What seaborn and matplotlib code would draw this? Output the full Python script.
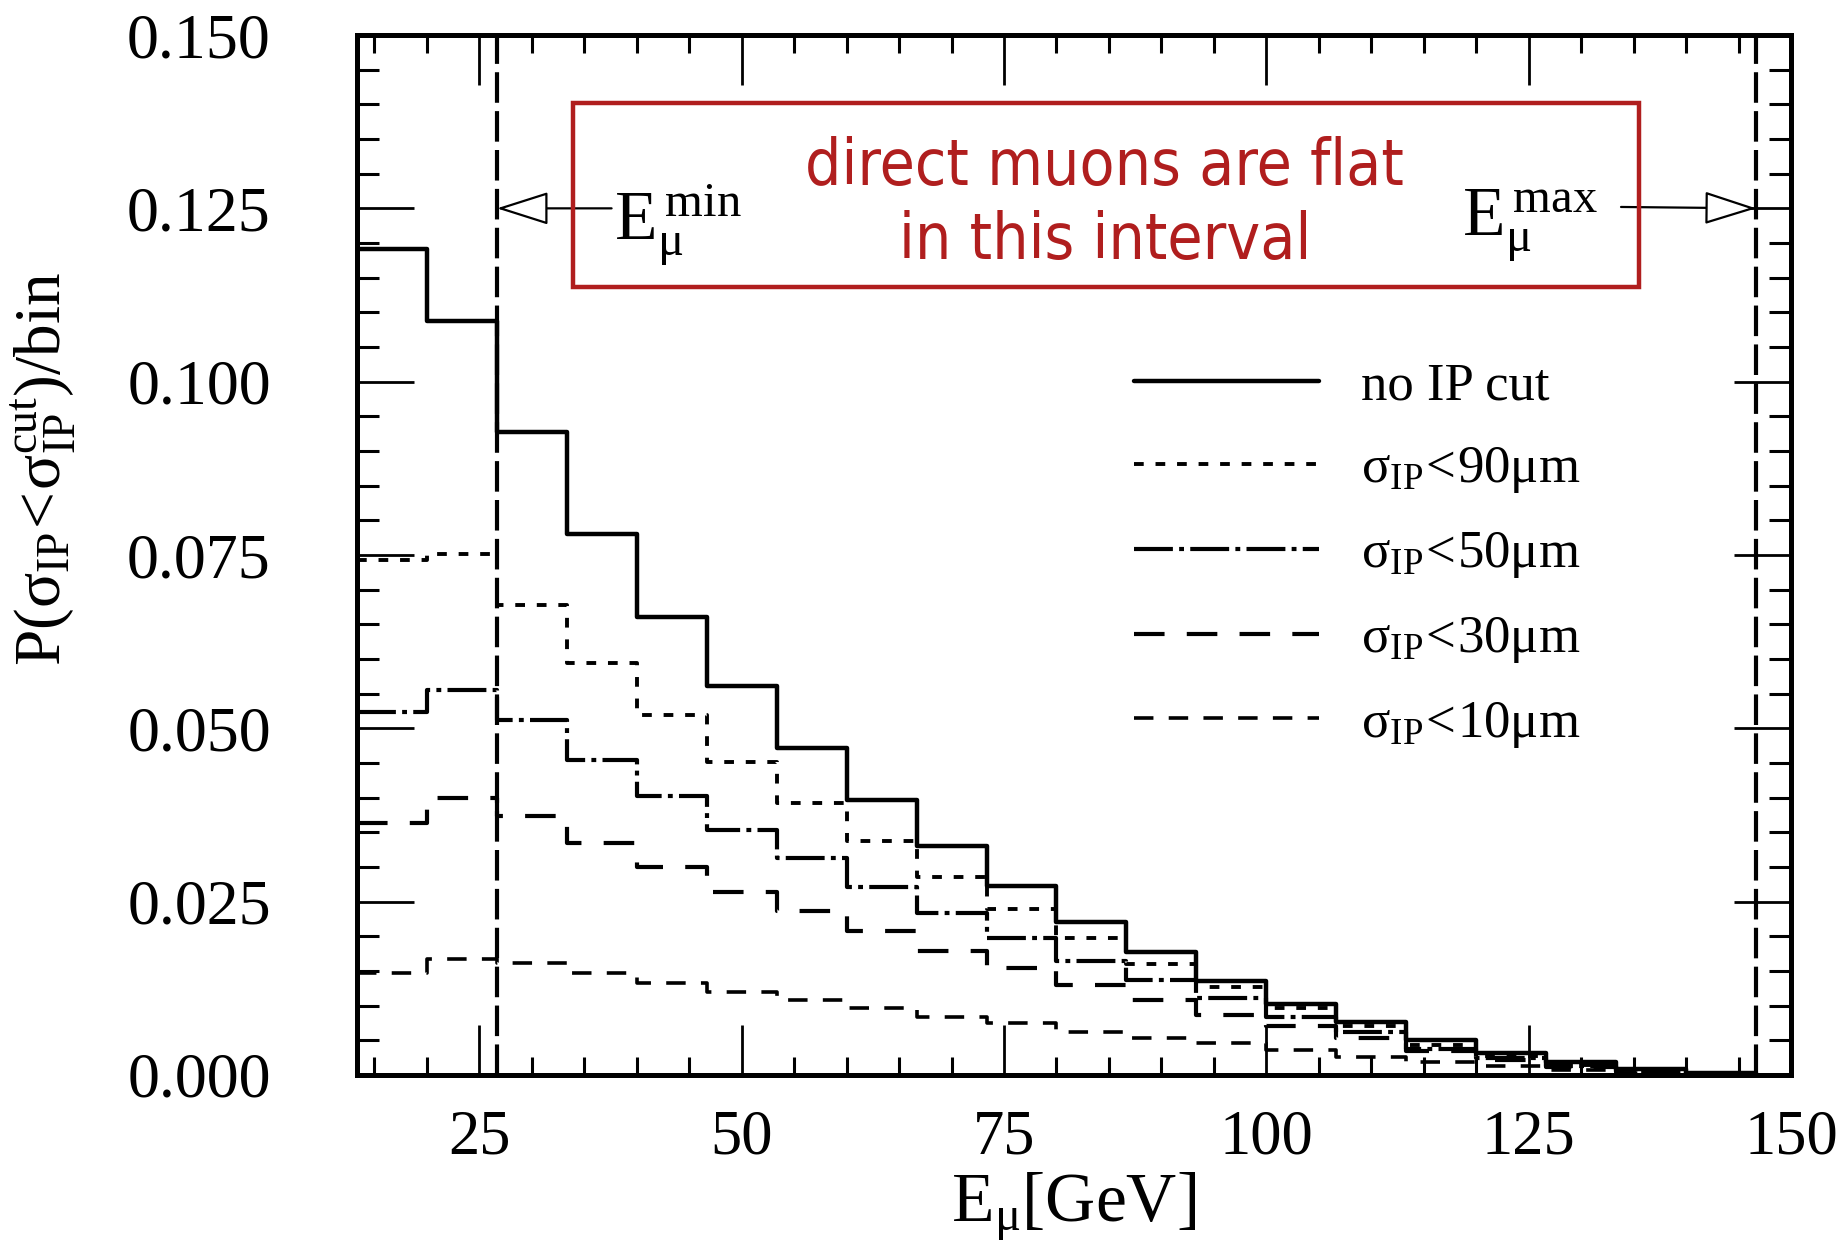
import numpy as np
import pandas as pd
import seaborn as sns
import matplotlib.pyplot as plt
from matplotlib.patches import Rectangle
from matplotlib.ticker import MultipleLocator, FormatStrFormatter

# ---------------- data ----------------
bin_edges = [13.33, 20.0, 26.67, 33.33, 40.0, 46.67, 53.33, 60.0, 66.67, 73.33,
             80.0, 86.67, 93.33, 100.0, 106.67, 113.33, 120.0, 126.67, 133.33,
             140.0, 146.67]
no_cut = [0.1191, 0.1087, 0.0927, 0.0781, 0.0661, 0.0561, 0.0471, 0.0397, 0.0331, 0.0272,
          0.0221, 0.0177, 0.0136, 0.0102, 0.0077, 0.0050, 0.0031, 0.0019, 0.0008, 0.0003]
cut90 = [0.0743, 0.0752, 0.0678, 0.0594, 0.0519, 0.0452, 0.0392, 0.0337, 0.0286, 0.0240,
         0.0197, 0.0160, 0.0127, 0.0096, 0.0070, 0.0043, 0.0027, 0.0015, 0.0007, 0.0002]
cut50 = [0.0524, 0.0556, 0.0512, 0.0455, 0.0402, 0.0354, 0.0313, 0.0271, 0.0233, 0.0197,
         0.0164, 0.0137, 0.0111, 0.0084, 0.0062, 0.0038, 0.0024, 0.0013, 0.0006, 0.0002]
cut30 = [0.0363, 0.0399, 0.0373, 0.0334, 0.0300, 0.0264, 0.0236, 0.0207, 0.0179, 0.0155,
         0.0130, 0.0108, 0.0087, 0.0070, 0.0053, 0.0035, 0.0021, 0.0011, 0.0005, 0.0001]
cut10 = [0.0147, 0.0167, 0.0161, 0.0147, 0.0133, 0.0119, 0.0108, 0.0096, 0.0084, 0.0075,
         0.0062, 0.0053, 0.0046, 0.0036, 0.0026, 0.0019, 0.0013, 0.0007, 0.0003, 0.0001]
labels = ["no IP cut",
          r"$\mathregular{σ_{IP}\!<\!90μm}$",
          r"$\mathregular{σ_{IP}\!<\!50μm}$",
          r"$\mathregular{σ_{IP}\!<\!30μm}$",
          r"$\mathregular{σ_{IP}\!<\!10μm}$"]
x_ticks = [25, 50, 75, 100, 125, 150]
y_ticks = [0.000, 0.025, 0.050, 0.075, 0.100, 0.125, 0.150]
e_min, e_max = 26.67, 146.67

# ---------------- style ----------------
sns.set_theme(style="ticks")
plt.rcParams["font.family"] = ["Liberation Serif", "DejaVu Serif"]
plt.rcParams["lines.scale_dashes"] = False
plt.rcParams["text.color"] = "black"
plt.rcParams["axes.edgecolor"] = "black"
plt.rcParams["axes.labelcolor"] = "black"

fig = plt.figure(figsize=(18.36, 12.51), dpi=100)
ax = fig.add_axes([0.1944, 0.1407, 0.7811, 0.8313])

series = [no_cut, cut90, cut50, cut30, cut10]
styles = [
    dict(lw=3.2, dashes=None),
    dict(lw=2.8, dashes=(7, 8.5)),
    dict(lw=3.0, dashes=(28, 4.5, 3.5, 4.5)),
    dict(lw=3.0, dashes=(22, 16)),
    dict(lw=2.6, dashes=(14, 11)),
]
handles = []
for vals, lab, st in zip(series, labels, styles):
    df = pd.DataFrame({"E": bin_edges, "P": list(vals) + [vals[-1]]})
    sns.lineplot(data=df, x="E", y="P", ax=ax, color="black", lw=st["lw"],
                 drawstyle="steps-post", estimator=None, legend=False)
    line = ax.lines[-1]
    if st["dashes"] is not None:
        line.set_dashes(st["dashes"])
    line.set_label(lab)
    handles.append(line)

# vertical interval lines
for xv in (e_min, e_max):
    ax.axvline(xv, color="black", lw=3.0, dashes=(22, 6))

ax.set_xlim(13.33, 150)
ax.set_ylim(0, 0.150)
ax.set_xticks(x_ticks)
ax.set_yticks(y_ticks)
ax.xaxis.set_minor_locator(MultipleLocator(5))
ax.yaxis.set_minor_locator(MultipleLocator(0.005))
ax.yaxis.set_major_formatter(FormatStrFormatter("%.3f"))
ax.tick_params(axis="both", which="both", direction="in", top=True, right=True,
               colors="black")
ax.tick_params(axis="y", which="major", length=41, width=2.0, pad=62, labelsize=46)
ax.tick_params(axis="y", which="minor", length=16, width=2.2)
ax.tick_params(axis="x", which="major", length=36, width=2.0, pad=25, labelsize=45)
ax.tick_params(axis="x", which="minor", length=13, width=2.2)
for sp in ax.spines.values():
    sp.set_linewidth(3.6)
    sp.set_color("black")

ax.set_xlabel(r"$\mathregular{E_{μ}[GeV]}$", fontsize=50, labelpad=2)
ax.set_ylabel(r"$\mathregular{P(σ_{IP}\!<\!σ_{IP}^{cut})/bin}$", fontsize=47, va="center")
ax.yaxis.set_label_coords(-0.218, 0.583)

leg = ax.legend(handles=handles, loc="upper left", bbox_to_anchor=(0.542, 0.685),
                frameon=False, fontsize=38, handlelength=3.5, handletextpad=0.8,
                labelspacing=0.66, borderpad=0, borderaxespad=0)

# annotations with open arrows
arrow = dict(arrowstyle="-|>,head_length=1.1,head_width=0.35", fc="white", ec="black",
             lw=1.6, mutation_scale=30, shrinkA=0, shrinkB=0)
ax.annotate("", xy=(e_min, 0.125), xytext=(37.6, 0.125), arrowprops=arrow)
ax.annotate("", xy=(e_max, 0.125), xytext=(133.8, 0.1252), arrowprops=arrow)
ax.text(37.8, 0.1226, r"$\mathregular{E_{μ}^{\,min}}$", fontsize=50, ha="left", va="center")
ax.text(118.6, 0.1226, r"$\mathregular{E_{μ}^{\,max}}$", fontsize=50, ha="left", va="center")

# red box with remark
red = "#B01E1E"
ax.add_patch(Rectangle((33.9, 0.1137), 135.5 - 33.9, 0.1402 - 0.1137, fill=False,
                       ec=red, lw=3.2, zorder=5))
ax.text(84.6, 0.1309, "direct muons are flat", color=red, fontsize=46,
        family="DejaVu Sans", fontstretch="condensed", ha="center", va="center")
ax.text(84.6, 0.1203, "in this interval", color=red, fontsize=46,
        family="DejaVu Sans", fontstretch="condensed", ha="center", va="center")

fig.savefig("out.png", dpi=100)
